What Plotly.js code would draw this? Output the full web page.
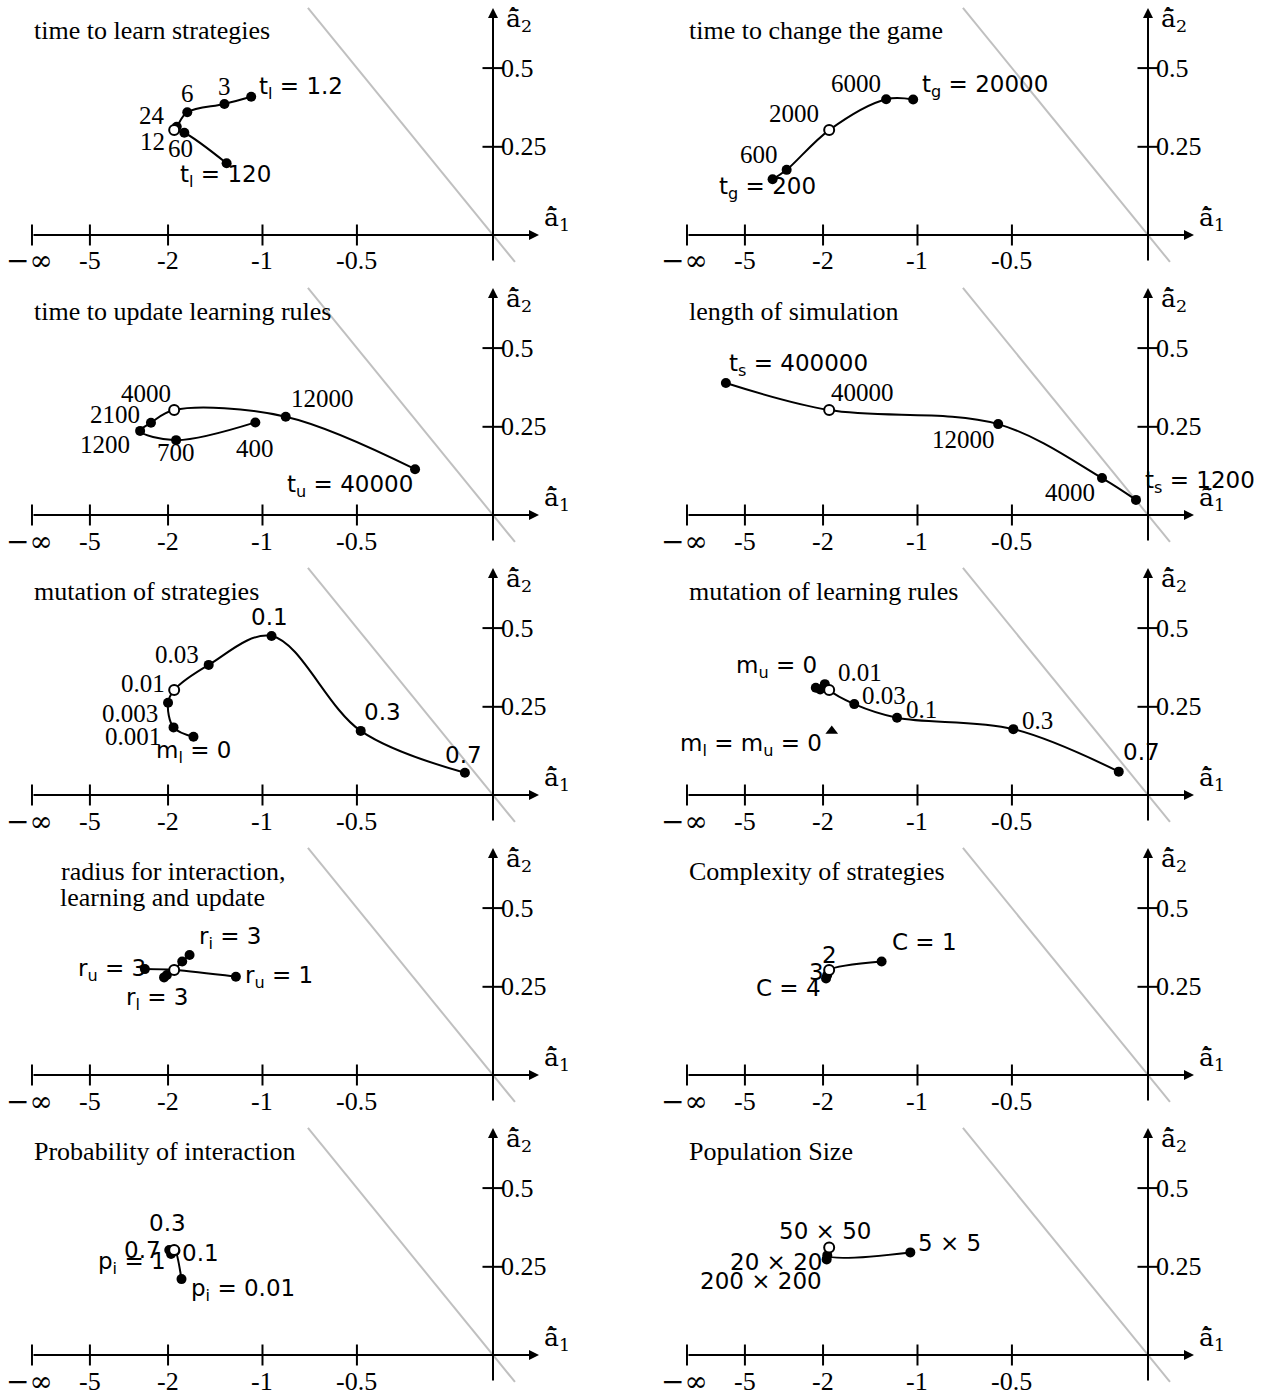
<!DOCTYPE html>
<html><head><meta charset="utf-8">
<script src="https://cdn.plot.ly/plotly-3.0.1.min.js"></script>
<style>html,body{margin:0;padding:0;background:#fff}#chart{width:1265px;height:1392px}</style>
</head><body><div id="chart"></div>
<script>
// axes are arctan-transformed: position = atan(value)
const T = Math.atan;
const xTickVals = [-Infinity, -5, -2, -1, -0.5];
const xTickText = ['\u2212\u221e', '-5', '-2', '-1', '-0.5'];
const yTickVals = [0.25, 0.5];
const yTickText = ['0.25', '0.5'];
const diagA1 = [-0.73, 0.075];               // guide line a2 = -a1

// 1 time to learn strategies
const learnTitle = ['time to learn strategies'];
const learnLabels = ['t<sub>l</sub> = 1.2', '3', '6', '12', '24', '60', 't<sub>l</sub> = 120'];
const learnA1 = [-1.08, -1.30, -1.71, -1.86, -1.90, -1.75, -1.28];
const learnA2 = [0.404, 0.381, 0.355, 0.31, 0.30, 0.292, 0.202];
// 2 time to change the game
const gameTitle = ['time to change the game'];
const gameLabels = ['t<sub>g</sub> = 200', '600', '2000', '6000', 't<sub>g</sub> = 20000'];
const gameA1 = [-3.33, -2.83, -1.90, -1.24, -1.03];
const gameA2 = [0.156, 0.183, 0.30, 0.396, 0.395];
// 3 time to update learning rules
const updTitle = ['time to update learning rules'];
const updLabels = ['400', '700', '1200', '2100', '4000', '12000', 't<sub>u</sub> = 40000'];
const updA1 = [-1.05, -1.87, -2.59, -2.33, -1.90, -0.853, -0.272];
const updA2 = [0.263, 0.211, 0.238, 0.262, 0.30, 0.280, 0.128];
// 4 length of simulation
const simTitle = ['length of simulation'];
const simLabels = ['t<sub>s</sub> = 1200', '4000', '12000', '40000', 't<sub>s</sub> = 400000'];
const simA1 = [-0.041, -0.158, -0.56, -1.90, -7.5];
const simA2 = [0.042, 0.103, 0.258, 0.30, 0.384];
// 5 mutation of strategies
const msTitle = ['mutation of strategies'];
const msLabels = ['m<sub>l</sub> = 0', '0.001', '0.003', '0.01', '0.03', '0.1', '0.3', '0.7'];
const msA1 = [-1.63, -1.91, -2.0, -1.90, -1.455, -0.94, -0.484, -0.096];
const msA2 = [0.163, 0.19, 0.262, 0.30, 0.378, 0.473, 0.18, 0.062];
// 6 mutation of learning rules
const mlTitle = ['mutation of learning rules'];
const mlLabels = ['m<sub>u</sub> = 0', '', '', '0.01', '0.03', '0.1', '0.3', '0.7'];
const mlA1 = [-2.13, -2.05, -1.97, -1.90, -1.56, -1.15, -0.494, -0.10];
const mlA2 = [0.307, 0.302, 0.318, 0.30, 0.258, 0.218, 0.185, 0.065];
const mlTriLabels = ['m<sub>l</sub> = m<sub>u</sub> = 0'];
const mlTriA1 = [-1.86];
const mlTriA2 = [0.18];
// 7 radius for interaction, learning and update
const radTitle = ['radius for interaction,', 'learning and update'];
const radLabels = ['r<sub>u</sub> = 3', '', 'r<sub>u</sub> = 1', '', 'r<sub>i</sub> = 3', '', 'r<sub>l</sub> = 3'];
const radA1 = [-2.47, -1.90, -1.20, -1.78, -1.68, -2.02, -2.07];
const radA2 = [0.303, 0.30, 0.28, 0.326, 0.346, 0.285, 0.278];
const radPaths = [[0, 1, 2], [1, 3, 4], [1, 5, 6]];
// 8 complexity of strategies
const cxTitle = ['Complexity of strategies'];
const cxLabels = ['C = 1', '2', '3', 'C = 4'];
const cxA1 = [-1.28, -1.90, -1.93, -1.95];
const cxA2 = [0.326, 0.30, 0.285, 0.275];
// 9 probability of interaction
const prTitle = ['Probability of interaction'];
const prLabels = ['p<sub>i</sub> = 0.01', '0.1', '0.3', '0.7', 'p<sub>i</sub> = 1'];
const prA1 = [-1.79, -1.88, -1.90, -1.98, -1.95];
const prA2 = [0.214, 0.298, 0.30, 0.30, 0.288];
// 10 population size
const popTitle = ['Population Size'];
const popLabels = ['5 \u00d7 5', '20 \u00d7 20', '50 \u00d7 50', '200 \u00d7 200'];
const popA1 = [-1.05, -1.93, -1.90, -1.94];
const popA2 = [0.293, 0.284, 0.308, 0.272];

// ---- label placement (style): [side, dx px, dy px (down), font]
const learnPlace = [['l',6,-9,'m'],['c',0,-17,'s'],['c',0,-19,'s'],['r',-10,15,'s'],['r',-7,-15,'s'],['c',-4,16,'s'],['c',-1,13,'m']];
const gamePlace = [['c',-5,9,'m'],['r',-7,-15,'s'],['r',-8,-17,'s'],['r',-3,-16,'s'],['l',7,-14,'m']];
const updPlace = [['c',0,26,'s'],['c',0,12,'s'],['r',-8,14,'s'],['r',-9,-8,'s'],['r',-1,-17,'s'],['l',3,-18,'s'],['r',0,17,'m']];
const simPlace = [['l',7,-18,'m'],['r',-5,14,'s'],['r',-1,15,'s'],['l',0,-18,'s'],['l',1,-18,'m']];
const msPlace = [['c',0,15,'m'],['r',-11,9,'s'],['r',-8,11,'s'],['r',-7,-7,'s'],['r',-8,-10,'s'],['c',-2,-19,'m'],['l',1,-19,'m'],['c',-1,-18,'m']];
const mlPlace = [['r',3,-21,'m'],null,null,['l',7,-18,'s'],['l',6,-9,'s'],['l',7,-8,'s'],['l',7,-9,'s'],['l',2,-20,'m']];
const mlTriPlace = [['r',-8,14,'m']];
const radPlace = [['r',3,1,'m'],null,['l',7,0,'m'],null,['l',7,-17,'m'],null,['c',-7,22,'m']];
const cxPlace = [['l',8,-20,'m'],['c',0,-15,'m'],['r',-1,-3,'m'],['r',-3,10,'m']];
const prPlace = [['l',7,11,'m'],['l',5,2,'m'],['c',-7,-27,'m'],['r',-6,0,'m'],['r',-3,9,'m']];
const popPlace = [['l',6,-9,'m'],['r',-3,7,'m'],['c',-4,-16,'m'],['r',-3,22,'m']];

const panels = [
  {title: learnTitle, a1: learnA1, a2: learnA2, labels: learnLabels, place: learnPlace, open: 4},
  {title: gameTitle, a1: gameA1, a2: gameA2, labels: gameLabels, place: gamePlace, open: 2},
  {title: updTitle, a1: updA1, a2: updA2, labels: updLabels, place: updPlace, open: 4},
  {title: simTitle, a1: simA1, a2: simA2, labels: simLabels, place: simPlace, open: 3},
  {title: msTitle, a1: msA1, a2: msA2, labels: msLabels, place: msPlace, open: 3},
  {title: mlTitle, a1: mlA1, a2: mlA2, labels: mlLabels, place: mlPlace, open: 3,
   tri: {a1: mlTriA1, a2: mlTriA2, labels: mlTriLabels, place: mlTriPlace}},
  {title: radTitle, a1: radA1, a2: radA2, labels: radLabels, place: radPlace, open: 1, paths: radPaths, titleShift: [142, 131]},
  {title: cxTitle, a1: cxA1, a2: cxA2, labels: cxLabels, place: cxPlace, open: 1},
  {title: prTitle, a1: prA1, a2: prA2, labels: prLabels, place: prPlace, open: 2},
  {title: popTitle, a1: popA1, a2: popA2, labels: popLabels, place: popPlace, open: 2}
];

// ---- geometry
const W = 1265, H = 1392;
const PXX = 293.5, PXY = 360;          // px per radian
const colX0 = [493, 1148];
const rowY0 = [235, 515, 795, 1075, 1355];
const L = 483, R = 97, TOP = 233, BOT = 35;
const X_END = 46 / PXX, Y_TOP = 227 / PXY, Y_BOT = -27 / PXY;

const SERIF = 'Liberation Serif, Times New Roman, serif';
const MATH = 'DejaVu Sans, sans-serif';
const fSerif = {family: SERIF, size: 25, color: '#000'};
const fMath = {family: MATH, size: 23, color: '#000'};
const fTitle = {family: SERIF, size: 26, color: '#000'};
const fTick = {family: SERIF, size: 26, color: '#000'};
const fInf = {family: 'DejaVu Serif, serif', size: 28, color: '#000'};
const fAxName = {family: 'DejaVu Serif, serif', size: 25, color: '#000'};

const traces = [];
const annotations = [];
const layout = {width: W, height: H, margin: {l: 0, r: 0, t: 0, b: 0},
  paper_bgcolor: '#fff', plot_bgcolor: 'rgba(0,0,0,0)', showlegend: false, hovermode: false};

function lab(xa, ya, a1, a2, text, place) {
  if (!place || !text) return;
  const [side, dx, dy, f] = place;
  annotations.push({xref: xa, yref: ya, x: T(a1), y: T(a2), text: text, showarrow: false,
    xanchor: side === 'l' ? 'left' : side === 'r' ? 'right' : 'center', yanchor: 'middle',
    xshift: dx, yshift: -dy, font: f === 'm' ? fMath : fSerif});
}

panels.forEach((p, i) => {
  const col = i % 2, row = Math.floor(i / 2);
  const suf = i === 0 ? '' : String(i + 1);
  const xa = 'x' + suf, ya = 'y' + suf;
  const X0 = colX0[col], Y0 = rowY0[row];
  layout['xaxis' + suf] = {domain: [(X0 - L) / W, (X0 + R) / W], range: [-L / PXX, R / PXX],
    visible: false, fixedrange: true, anchor: ya};
  layout['yaxis' + suf] = {domain: [1 - (Y0 + BOT) / H, 1 - (Y0 - TOP) / H], range: [-BOT / PXY, TOP / PXY],
    visible: false, fixedrange: true, anchor: xa};
  const base = {type: 'scatter', xaxis: xa, yaxis: ya, hoverinfo: 'skip', showlegend: false};

  // guide line a2 = -a1
  traces.push(Object.assign({}, base, {mode: 'lines', x: diagA1.map(T), y: diagA1.map(v => T(-v)),
    line: {color: '#c0c0c0', width: 2}}));
  // axis lines with arrows
  annotations.push({xref: xa, yref: ya, axref: xa, ayref: ya, x: X_END, y: 0, ax: T(-Infinity), ay: 0,
    text: '', showarrow: true, arrowhead: 2, arrowsize: 1, arrowwidth: 2, arrowcolor: '#000', standoff: 0, startstandoff: 0});
  annotations.push({xref: xa, yref: ya, axref: xa, ayref: ya, x: 0, y: Y_TOP, ax: 0, ay: Y_BOT,
    text: '', showarrow: true, arrowhead: 2, arrowsize: 1, arrowwidth: 2, arrowcolor: '#000', standoff: 0, startstandoff: 0});
  // ticks
  traces.push(Object.assign({}, base, {mode: 'markers', x: xTickVals.map(T), y: xTickVals.map(() => 0), cliponaxis: false,
    marker: {symbol: 'line-ns', size: 15, color: '#000', line: {width: 2, color: '#000'}}}));
  traces.push(Object.assign({}, base, {mode: 'markers', x: yTickVals.map(() => 0), y: yTickVals.map(T), cliponaxis: false,
    marker: {symbol: 'line-ew', size: 15, color: '#000', line: {width: 2, color: '#000'}}}));
  xTickVals.forEach((v, k) => annotations.push({xref: xa, yref: ya, x: T(v), y: 0, text: xTickText[k], showarrow: false,
    xanchor: 'center', yanchor: 'middle', yshift: -26, xshift: k === 0 ? -2 : 0, font: k === 0 ? fInf : fTick}));
  yTickVals.forEach((v, k) => annotations.push({xref: xa, yref: ya, x: 0, y: T(v), text: yTickText[k], showarrow: false,
    xanchor: 'left', yanchor: 'middle', xshift: 6, font: fTick}));
  annotations.push({xref: xa, yref: ya, x: X_END, y: 0, text: 'a\u0302\u0304<sub>1</sub>', showarrow: false,
    xanchor: 'left', yanchor: 'middle', xshift: 3, yshift: 16, font: fAxName});
  annotations.push({xref: xa, yref: ya, x: 0, y: Y_TOP, text: 'a\u0302\u0304<sub>2</sub>', showarrow: false,
    xanchor: 'left', yanchor: 'middle', xshift: 11, yshift: -12, font: fAxName});
  // title
  p.title.forEach((t, k) => annotations.push({xref: xa, yref: ya, x: T(-Infinity), y: 0, text: t, showarrow: false,
    xanchor: p.titleShift ? 'center' : 'left', yanchor: 'middle', xshift: p.titleShift ? p.titleShift[k] : 0,
    yshift: 204 - 26 * k, font: fTitle}));

  // curves
  const paths = p.paths || [p.a1.map((_, k) => k)];
  paths.forEach(path => traces.push(Object.assign({}, base, {mode: 'lines',
    x: path.map(k => T(p.a1[k])), y: path.map(k => T(p.a2[k])),
    line: {color: '#000', width: 2, shape: 'spline', smoothing: 1}})));
  // points
  const filled = p.a1.map((_, k) => k).filter(k => k !== p.open);
  traces.push(Object.assign({}, base, {mode: 'markers', x: filled.map(k => T(p.a1[k])), y: filled.map(k => T(p.a2[k])),
    marker: {symbol: 'circle', size: 10, color: '#000', line: {width: 0}}}));
  traces.push(Object.assign({}, base, {mode: 'markers', x: [T(p.a1[p.open])], y: [T(p.a2[p.open])],
    marker: {symbol: 'circle', size: 10, color: '#fff', line: {width: 2, color: '#000'}}}));
  p.a1.forEach((v, k) => lab(xa, ya, v, p.a2[k], p.labels[k], p.place[k]));
  if (p.tri) {
    traces.push(Object.assign({}, base, {mode: 'markers', x: p.tri.a1.map(T), y: p.tri.a2.map(T),
      marker: {symbol: 'triangle-up', size: 11, color: '#000', line: {width: 0}}}));
    p.tri.a1.forEach((v, k) => lab(xa, ya, v, p.tri.a2[k], p.tri.labels[k], p.tri.place[k]));
  }
});
layout.annotations = annotations;
Plotly.newPlot('chart', traces, layout, {staticPlot: true, displayModeBar: false});
</script></body></html>
